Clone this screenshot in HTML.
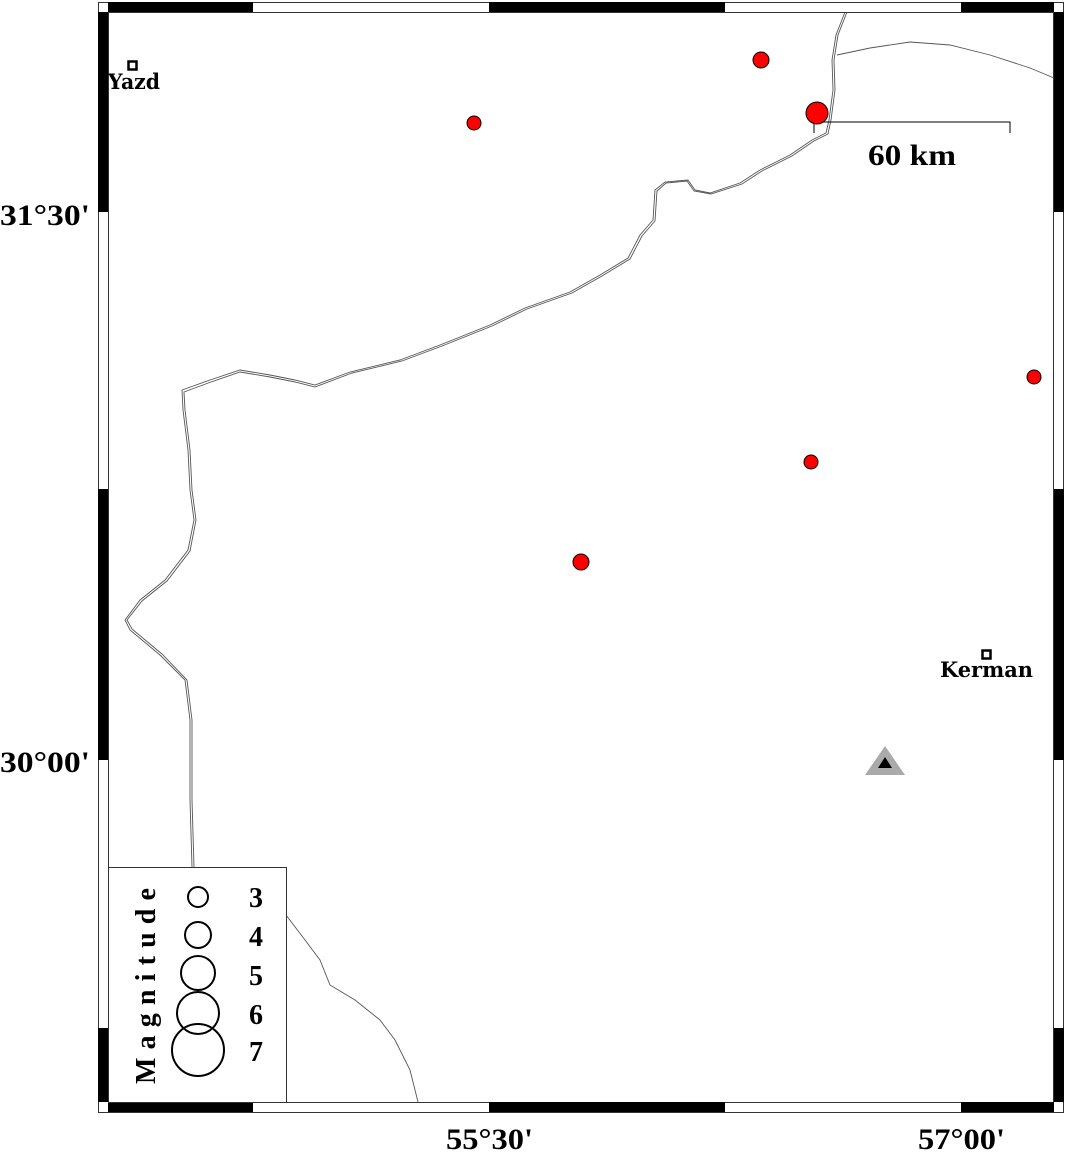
<!DOCTYPE html>
<html><head><style>body{margin:0;background:#fff}svg{display:block}</style></head><body>
<svg width="1066" height="1152" viewBox="0 0 1066 1152" xmlns="http://www.w3.org/2000/svg" font-family="Liberation Serif, serif" font-weight="bold">
<rect width="1066" height="1152" fill="#fff"/>
<g fill="none" stroke="#555" stroke-width="0.9">
<polyline points="845,12 836,35 832,60 833,90 829,120 826,133 812,140 790,155 760,170 740,183 710,193 695,190 688,180 665,182 655,190 653,220 640,235 628,258 600,275 570,292 525,308 490,325 440,345 400,360 350,372 315,385 295,380 270,375 240,370 210,380 182,390 183,410 188,450 190,490 194,520 188,550 165,580 140,600 125,620 130,630 160,655 185,680 190,720 190,800 192,867"/>
<polyline points="847,12 838,35 834,60 835,90 831,120 828,134 814,141 792,156 762,171 742,184 711,194 694,191 687,181 666,183 657,191 655,221 642,236 630,259 602,276 572,293 527,309 492,326 442,346 402,361 352,373 315,387 295,382 270,377 240,372 211,382 184,392 185,410 190,450 192,490 196,520 190,551 167,581 142,601 127,620 132,629 162,654 187,680 192,720 192,800 194,867"/>
<polyline points="837,55 870,48 910,42 950,45 990,55 1030,68 1054,78"/>
<polyline points="286,915 305,940 320,960 330,985 355,1000 380,1020 395,1040 410,1070 418,1102"/>
</g>
<rect x="98.5" y="2.5" width="965" height="1110" fill="none" stroke="#333" stroke-width="1"/>
<rect x="108.5" y="12.5" width="945" height="1090" fill="none" stroke="#333" stroke-width="1"/>
<g fill="#000">
<rect x="108" y="2" width="145" height="10"/><rect x="489" y="2" width="236" height="10"/><rect x="961" y="2" width="93" height="10"/>
<rect x="108" y="1102" width="145" height="10"/><rect x="489" y="1102" width="236" height="10"/><rect x="961" y="1102" width="93" height="10"/>
<rect x="98" y="12" width="10" height="200"/><rect x="98" y="489" width="10" height="271"/><rect x="98" y="1028" width="10" height="74"/>
<rect x="1054" y="12" width="10" height="200"/><rect x="1054" y="489" width="10" height="271"/><rect x="1054" y="1028" width="10" height="74"/>
</g>
<rect x="108.5" y="867.5" width="178" height="235" fill="#fff" stroke="#333"/>
<g fill="none" stroke="#000" stroke-width="2">
<circle cx="198" cy="897" r="10"/><circle cx="198" cy="935" r="13"/><circle cx="198" cy="973" r="17"/><circle cx="198" cy="1013" r="21"/><circle cx="198" cy="1050" r="26"/>
</g>
<g font-size="28"><text x="249" y="907">3</text><text x="249" y="946">4</text><text x="249" y="985">5</text><text x="249" y="1024">6</text><text x="249" y="1061">7</text></g>
<text transform="translate(155,1084) rotate(-90)" font-size="28" textLength="196" lengthAdjust="spacing">Magnitude</text>
<polyline points="814,133 814,122 1010,122 1010,133" fill="none" stroke="#000" stroke-width="1"/>
<text x="868" y="165" font-size="30" textLength="88" lengthAdjust="spacingAndGlyphs">60 km</text>
<g fill="#f00" stroke="#000" stroke-width="1">
<circle cx="761" cy="60" r="8"/><circle cx="474" cy="123" r="7"/><circle cx="817" cy="113" r="11"/><circle cx="1034" cy="377" r="7"/><circle cx="811" cy="462" r="7"/><circle cx="581" cy="562" r="8"/>
</g>
<polygon points="885,746 905,775 865,775" fill="#aaa"/>
<polygon points="885,757 892,768 878,768" fill="#000"/>
<rect x="128.5" y="61.5" width="8" height="8" fill="#fff" stroke="#000" stroke-width="2.5"/>
<text x="108" y="89" font-size="21" font-family="DejaVu Serif, serif" textLength="52" lengthAdjust="spacingAndGlyphs">Yazd</text>
<rect x="982.5" y="650.5" width="8" height="8" fill="#fff" stroke="#000" stroke-width="2.5"/>
<text x="940" y="677" font-size="21" font-family="DejaVu Serif, serif" textLength="93" lengthAdjust="spacingAndGlyphs">Kerman</text>
<g font-size="30">
<text x="0" y="225" textLength="90" lengthAdjust="spacingAndGlyphs">31°30'</text>
<text x="0" y="772" textLength="90" lengthAdjust="spacingAndGlyphs">30°00'</text>
<text x="446" y="1149" textLength="87" lengthAdjust="spacingAndGlyphs">55°30'</text>
<text x="918" y="1149" textLength="87" lengthAdjust="spacingAndGlyphs">57°00'</text>
</g>
</svg>
</body></html>
